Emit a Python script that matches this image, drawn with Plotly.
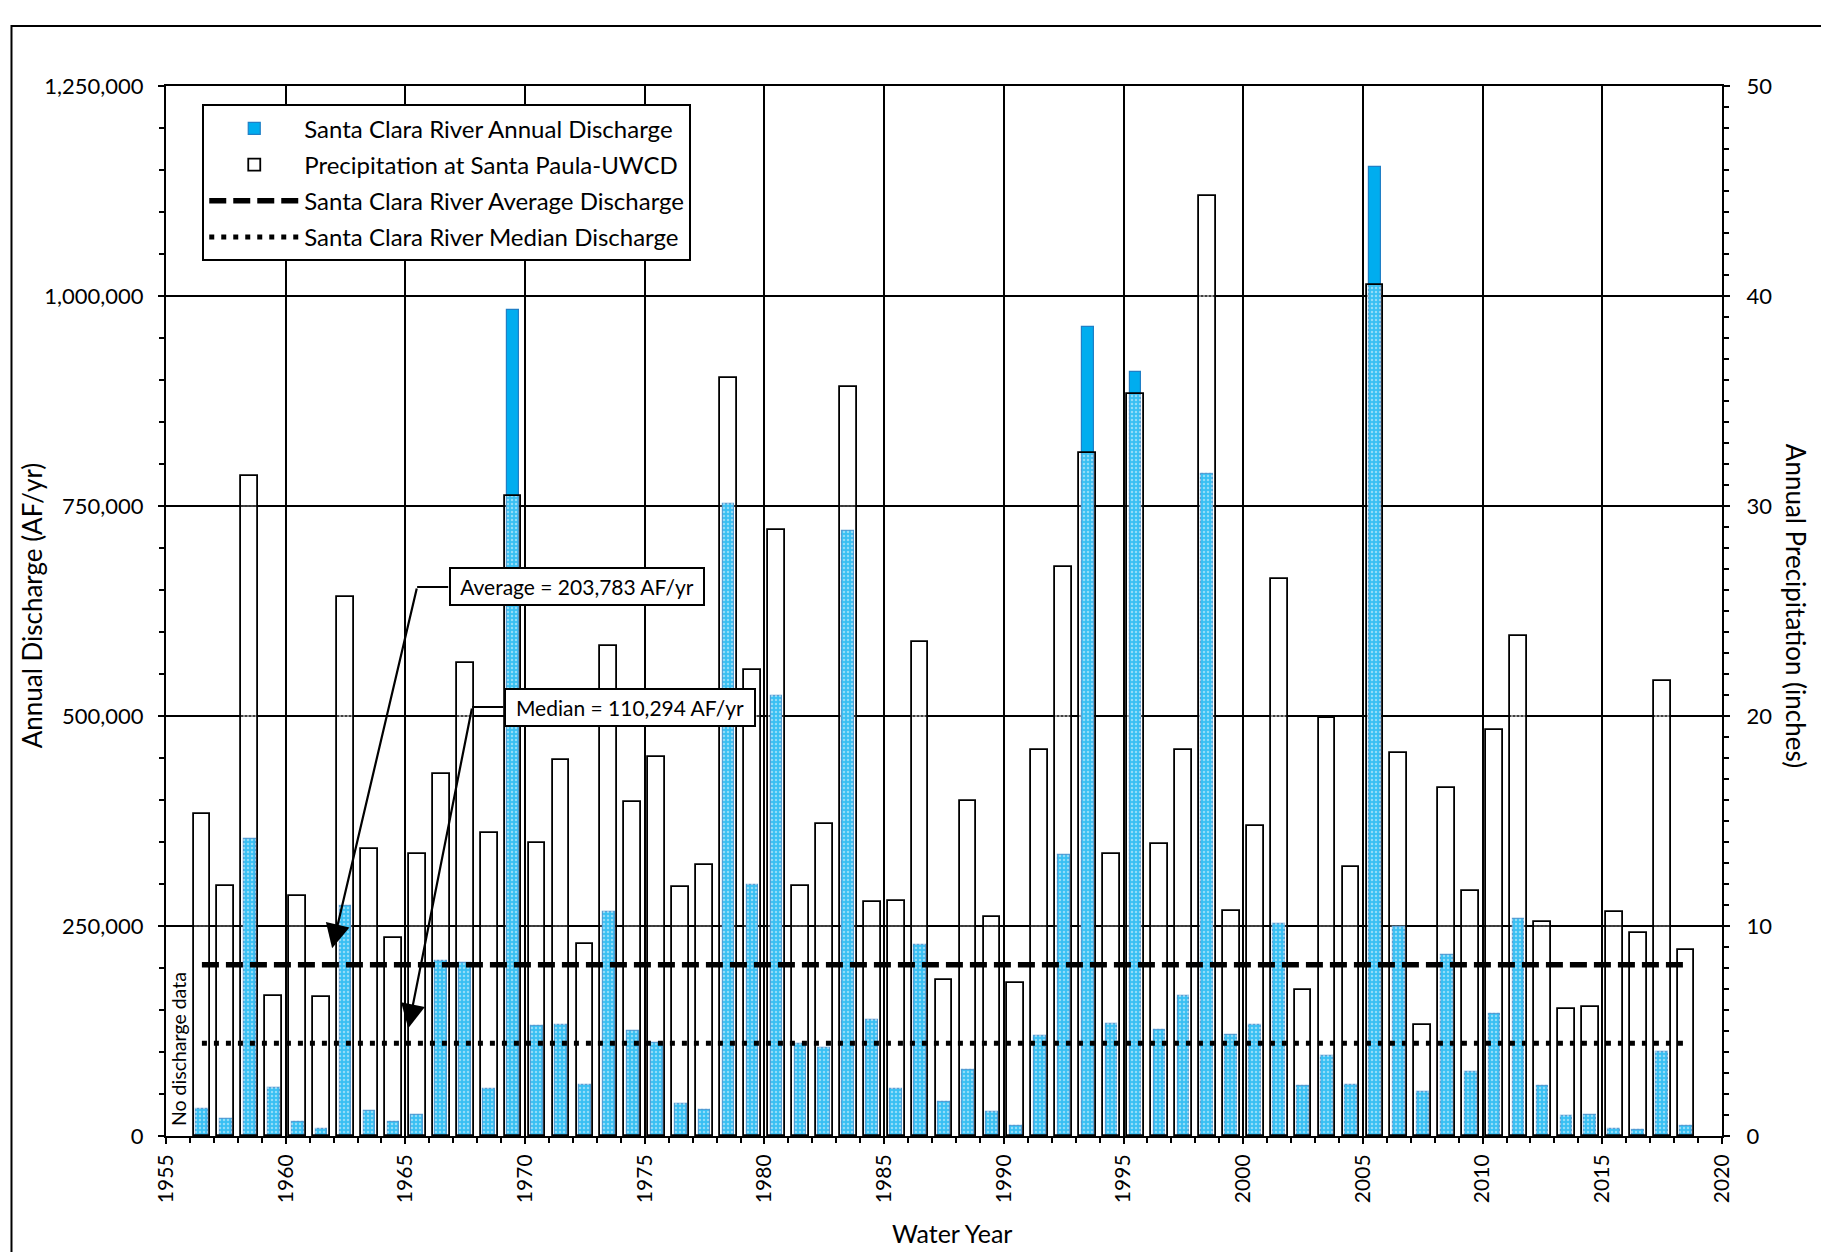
import plotly.graph_objects as go

years = list(range(1956, 2019))

discharge_af = [
    31800, 20500, 353700, 56900, 16300, 7900, 273400, 29700, 17100, 25100,
    208600, 206500, 56000, 983000, 130900, 132000, 61000, 267000, 124600, 111200,
    38500, 30500, 752000, 298900, 524200, 109100, 104900, 720600, 138000, 56000,
    227800, 40000, 78200, 28400, 12500, 119100, 334000, 963500, 132900, 909000,
    126700, 167200, 788600, 120800, 132100, 252100, 59400, 94900, 61000, 1153800,
    249200, 52700, 215700, 76500, 145100, 258400, 59400, 24200, 24700, 8400,
    7500, 99900, 11700,
]

precip_in = [
    15.33, 11.92, 31.43, 6.67, 11.42, 6.62, 25.68, 13.68, 9.42, 13.44,
    17.22, 22.51, 14.42, 30.50, 13.95, 17.91, 9.13, 23.31, 15.89, 18.06,
    11.87, 12.91, 36.08, 22.17, 28.88, 11.89, 14.87, 35.65, 11.15, 11.17,
    23.51, 7.42, 15.94, 10.45, 7.27, 18.40, 27.08, 32.54, 13.41, 35.32,
    13.91, 18.40, 44.76, 10.70, 14.78, 26.54, 6.97, 19.92, 12.83, 40.54,
    18.24, 5.30, 16.57, 11.67, 19.33, 23.80, 10.20, 6.04, 6.14, 10.65,
    9.65, 21.66, 8.85,
]

average_af = 203783
median_af = 110294

x_pos = [y + 0.5 for y in years]

FONT = "Lato, Carlito, 'Liberation Sans', sans-serif"

fig = go.Figure()

fig.add_trace(go.Bar(
    x=x_pos, y=discharge_af, width=0.49, name="Santa Clara River Annual Discharge",
    marker=dict(color="#00ADEF", line=dict(color="#1F7FC6", width=1.2)),
    yaxis="y", legendgroup="a",
))

fig.add_trace(go.Bar(
    x=x_pos, y=precip_in, width=0.70, name="Precipitation at Santa Paula-UWCD",
    marker=dict(color="rgba(255,255,255,0.22)", line=dict(color="black", width=1.8),
                pattern=dict(shape=".", fgcolor="white", fgopacity=0.45, size=4, solidity=0.3)),
    yaxis="y2", legendgroup="b",
))

fig.add_trace(go.Scatter(
    x=x_pos, y=[average_af] * len(x_pos), mode="lines",
    name="Santa Clara River Average Discharge",
    line=dict(color="black", width=5.5, dash="17px,7px"),
    yaxis="y3", legendgroup="c",
))

fig.add_trace(go.Scatter(
    x=x_pos, y=[median_af] * len(x_pos), mode="lines",
    name="Santa Clara River Median Discharge",
    line=dict(color="black", width=5, dash="5px,7px"),
    yaxis="y3", legendgroup="d",
))

axis_common = dict(
    showline=True, linecolor="black", linewidth=2,
    ticks="outside", tickcolor="black", tickwidth=2, ticklen=6,
    zeroline=False,
)

fig.update_layout(
    width=1813, height=1244,
    margin=dict(l=158, r=99, t=78, b=116),
    paper_bgcolor="white", plot_bgcolor="white",
    font=dict(family=FONT, size=21, color="black"),
    barmode="overlay",
    bargap=0,
    showlegend=True,
    legend=dict(
        x=0.0233, y=0.9826, xanchor="left", yanchor="top",
        bgcolor="white", bordercolor="black", borderwidth=2,
        font=dict(family=FONT, size=24, color="black"),
        tracegroupgap=2, itemwidth=90,
        entrywidth=440, entrywidthmode="pixels",
    ),
    xaxis=dict(
        range=[1955, 2020], tick0=1955, dtick=5, tickangle=-90,
        showgrid=True, gridcolor="black", gridwidth=1.8,
        mirror=True, ticklabelstandoff=2,
        tickfont=dict(family=FONT, size=21, color="black"),
        minor=dict(dtick=1, ticks="outside", ticklen=5, tickcolor="black", tickwidth=1.5, showgrid=False),
        **axis_common,
    ),
    yaxis=dict(
        range=[0, 1250000], dtick=250000, tickformat=",d",
        showgrid=True, gridcolor="black", gridwidth=1.8,
        ticklabelstandoff=10,
        tickfont=dict(family=FONT, size=22, color="black"),
        minor=dict(dtick=50000, ticks="outside", ticklen=5, tickcolor="black", tickwidth=1.5, showgrid=False),
        **axis_common,
    ),
    yaxis2=dict(
        range=[0, 50], dtick=10, overlaying="y", side="right",
        showgrid=False, ticklabelstandoff=12,
        tickfont=dict(family=FONT, size=22, color="black"),
        minor=dict(dtick=1, ticks="outside", ticklen=5, tickcolor="black", tickwidth=1.5, showgrid=False),
        **axis_common,
    ),
    yaxis3=dict(range=[0, 1250000], overlaying="y", visible=False),
)

title_font = dict(family=FONT, size=26, color="black")
ann_font = dict(family=FONT, size=21, color="black")

# Axis titles
fig.add_annotation(text="Annual Discharge (AF/yr)", xref="paper", yref="paper",
                   x=-0.0864, y=0.505, xanchor="center", yanchor="middle",
                   textangle=-90, showarrow=False, font=title_font)
fig.add_annotation(text="Annual Precipitation (inches)", xref="paper", yref="paper",
                   x=1.0475, y=0.505, xanchor="center", yanchor="middle",
                   textangle=90, showarrow=False, font=title_font)
fig.add_annotation(text="Water Year", xref="paper", yref="paper",
                   x=0.505, y=-0.0924, xanchor="center", yanchor="middle",
                   showarrow=False, font=dict(family=FONT, size=25, color="black"))

fig.add_annotation(text="No discharge data", xref="x", yref="y",
                   x=1955.5, y=103500, xanchor="center", yanchor="middle",
                   textangle=-90, showarrow=False,
                   font=dict(family=FONT, size=19.5, color="black"))

# Average callout
fig.add_annotation(text="Average = 203,783 AF/yr", xref="x", yref="y",
                   x=1972.17, y=653600, xanchor="center", yanchor="middle",
                   showarrow=False, font=ann_font,
                   bgcolor="white", bordercolor="black", borderwidth=2, borderpad=3,
                   width=246, height=29)
fig.add_shape(type="line", xref="x", yref="y", x0=1966.79, x1=1965.49,
              y0=653600, y1=653600, line=dict(color="black", width=2), layer="above")
fig.add_annotation(text="", xref="x", yref="y", x=1961.94, y=223500,
                   axref="x", ayref="y", ax=1965.49, ay=653600,
                   showarrow=True, arrowhead=2, arrowsize=2.2, arrowwidth=2.2,
                   arrowcolor="black", standoff=0, startstandoff=0)

# Median callout
fig.add_annotation(text="Median = 110,294 AF/yr", xref="x", yref="y",
                   x=1974.38, y=510700, xanchor="center", yanchor="middle",
                   showarrow=False, font=ann_font,
                   bgcolor="white", bordercolor="black", borderwidth=2, borderpad=3,
                   width=242, height=29)
fig.add_shape(type="line", xref="x", yref="y", x0=1969.09, x1=1967.79,
              y0=510700, y1=510700, line=dict(color="black", width=2), layer="above")
fig.add_annotation(text="", xref="x", yref="y", x=1965.12, y=128200,
                   axref="x", ayref="y", ax=1967.79, ay=510700,
                   showarrow=True, arrowhead=2, arrowsize=2.2, arrowwidth=2.2,
                   arrowcolor="black", standoff=0, startstandoff=0)

# Outer frame
fig.add_shape(type="rect", xref="paper", yref="paper",
              x0=-0.0993, x1=1.0649, y0=-0.1152, y1=1.0571,
              line=dict(color="black", width=2), fillcolor="rgba(0,0,0,0)", layer="above")

fig.write_html("out.html")
